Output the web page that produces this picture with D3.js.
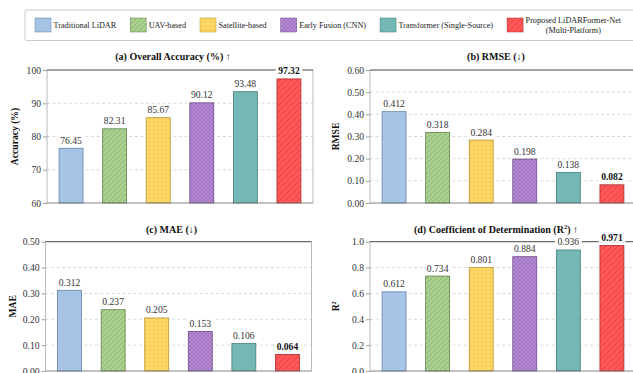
<!DOCTYPE html>
<html>
<head>
<meta charset="utf-8">
<script src="https://cdn.jsdelivr.net/npm/d3@7"></script>
<style>
  html, body { margin: 0; padding: 0; background: #fff; }
  svg { display: block; font-family: "Liberation Serif", "Times New Roman", serif; }
</style>
</head>
<body>
<svg id="chart" width="633" height="373"></svg>
<script>
// Methods compared across all four metrics
const categories = [
  "Traditional LiDAR",
  "UAV-based",
  "Satellite-based",
  "Early Fusion (CNN)",
  "Transformer (Single-Source)",
  "Proposed LiDARFormer-Net\n(Multi-Platform)"
];

// Metric values per method
const accuracy = [76.45, 82.31, 85.67, 90.12, 93.48, 97.32];
const rmse = [0.412, 0.318, 0.284, 0.198, 0.138, 0.082];
const mae = [0.312, 0.237, 0.205, 0.153, 0.106, 0.064];
const r2 = [0.612, 0.734, 0.801, 0.884, 0.936, 0.971];

// Y-axis tick values
const accTicks = [60, 70, 80, 90, 100];
const rmseTicks = [0, 0.1, 0.2, 0.3, 0.4, 0.5, 0.6];
const maeTicks = [0, 0.1, 0.2, 0.3, 0.4, 0.5];
const r2Ticks = [0, 0.2, 0.4, 0.6, 0.8, 1.0];

// Bar styling per method: fill, edge, hatch pattern id
const styles = [
  { fill: "#a7c3e6", edge: "#6283ad", pattern: null },
  { fill: "#a9d08e", edge: "#5f8048", pattern: "hatchGreen" },
  { fill: "#ffd766", edge: "#b8962f", pattern: "dotsYellow" },
  { fill: "#b98bd8", edge: "#6d4a88", pattern: "crossPurple" },
  { fill: "#73b8b4", edge: "#467f7b", pattern: null },
  { fill: "#ff5757", edge: "#a82a2a", pattern: "hatchRed" }
];

const svg = d3.select("#chart");
const defs = svg.append("defs");

function diagPattern(id, bg, line, size, width) {
  const p = defs.append("pattern").attr("id", id)
    .attr("patternUnits", "userSpaceOnUse").attr("width", size).attr("height", size);
  p.append("rect").attr("width", size).attr("height", size).attr("fill", bg);
  p.append("path")
    .attr("d", `M0,${size} L${size},0 M${-size / 2},${size / 2} L${size / 2},${-size / 2} M${size / 2},${size * 1.5} L${size * 1.5},${size / 2}`)
    .attr("stroke", line).attr("stroke-width", width);
}
diagPattern("hatchGreen", "#a9d08e", "#7ba661", 5, 0.6);
diagPattern("hatchRed", "#ff5757", "#d23a3a", 6, 0.6);
{
  const p = defs.append("pattern").attr("id", "dotsYellow")
    .attr("patternUnits", "userSpaceOnUse").attr("width", 4).attr("height", 4);
  p.append("rect").attr("width", 4).attr("height", 4).attr("fill", "#ffd766");
  p.append("circle").attr("cx", 2).attr("cy", 2).attr("r", 0.55).attr("fill", "#c99b2a");
}
{
  const s = 4;
  const p = defs.append("pattern").attr("id", "crossPurple")
    .attr("patternUnits", "userSpaceOnUse").attr("width", s).attr("height", s);
  p.append("rect").attr("width", s).attr("height", s).attr("fill", "#b98bd8");
  p.append("path").attr("d", `M0,0 L${s},${s} M0,${s} L${s},0`)
    .attr("stroke", "#8a62a8").attr("stroke-width", 0.55);
}
const fillOf = i => styles[i].pattern ? `url(#${styles[i].pattern})` : styles[i].fill;

// Legend
const legendFont = 8.2;
const legend = svg.append("g");
legend.append("rect").attr("x", 25).attr("y", 10).attr("width", 640).attr("height", 30.5)
  .attr("fill", "#fff").attr("stroke", "#bdbdbd").attr("stroke-width", 0.8).attr("rx", 1.5);
let lx = 35;
categories.forEach((name, i) => {
  legend.append("rect").attr("x", lx).attr("y", 18).attr("width", 16).attr("height", 14)
    .attr("fill", fillOf(i)).attr("stroke", styles[i].edge).attr("stroke-width", 0.5);
  const lines = name.split("\n");
  const t = legend.append("text").attr("font-size", legendFont).attr("fill", "#222");
  if (lines.length === 1) {
    t.attr("x", lx + 18.5).attr("y", 28).text(name);
    lx += 18.5 + t.node().getComputedTextLength() + 14;
  } else {
    const widths = lines.map(s => {
      const tt = legend.append("text").attr("font-size", legendFont).text(s);
      const w = tt.node().getComputedTextLength(); tt.remove(); return w;
    });
    const w = Math.max(...widths);
    const cx = Math.min(lx + 18.5 + w / 2, 632 - w / 2);
    t.attr("text-anchor", "middle");
    lines.forEach((s, k) => {
      t.append("tspan").attr("x", cx).attr("y", 23 + k * 9.5).text(s);
    });
  }
});

// Panel layout
const panels = [
  { title: ["(a) Overall Accuracy (%) ↑"], ylab: ["Accuracy (%)"], values: accuracy, ticks: accTicks, domain: [60, 100], fmt: d3.format("d"), vfmt: d3.format(".2f"),
    left: 47, top: 70, bottom: 203, titleY: 60, ylabX: 18 },
  { title: ["(b) RMSE (↓)"], ylab: ["RMSE"], values: rmse, ticks: rmseTicks, domain: [0, 0.6], fmt: d3.format(".2f"), vfmt: d3.format(".3f"),
    left: 370, top: 70, bottom: 203, titleY: 60, ylabX: 339 },
  { title: ["(c) MAE (↓)"], ylab: ["MAE"], values: mae, ticks: maeTicks, domain: [0, 0.5], fmt: d3.format(".2f"), vfmt: d3.format(".3f"),
    left: 45.5, top: 241.7, bottom: 371, titleY: 233, ylabX: 16 },
  { title: ["(d) Coefficient of Determination (R", "2", ") ↑"], ylab: ["R", "2"], values: r2, ticks: r2Ticks, domain: [0, 1], fmt: d3.format(".1f"), vfmt: d3.format(".3f"),
    left: 370, top: 241.7, bottom: 371, titleY: 233, ylabX: 339 }
];
const panelWidth = 266;
const barWidth = 0.55;

panels.forEach(p => {
  const g = svg.append("g");
  const x = d3.scaleLinear().domain([-0.5525, categories.length - 1 + 0.5525]).range([p.left, p.left + panelWidth]);
  const y = d3.scaleLinear().domain(p.domain).range([p.bottom, p.top]);

  // dashed grid
  g.append("g").selectAll("line").data(p.ticks.slice(1, -1)).join("line")
    .attr("x1", p.left).attr("x2", p.left + panelWidth)
    .attr("y1", d => y(d)).attr("y2", d => y(d))
    .attr("stroke", "#c8c8c8").attr("stroke-width", 0.7).attr("stroke-dasharray", "3,2.5");

  // bars
  g.append("g").selectAll("rect").data(p.values).join("rect")
    .attr("x", (d, i) => x(i - barWidth / 2))
    .attr("width", (d, i) => x(i + barWidth / 2) - x(i - barWidth / 2))
    .attr("y", d => y(d))
    .attr("height", d => y(p.domain[0]) - y(d))
    .attr("fill", (d, i) => fillOf(i))
    .attr("stroke", (d, i) => styles[i].edge).attr("stroke-width", 0.8);

  // y axis
  const axis = d3.axisLeft(y).tickValues(p.ticks).tickFormat(p.fmt).tickSize(4).tickPadding(2);
  const ag = g.append("g").attr("transform", `translate(${p.left},0)`).call(axis);
  ag.select(".domain").remove();
  ag.selectAll(".tick line").attr("stroke", "#777").attr("stroke-width", 0.7);
  ag.selectAll(".tick text").attr("font-family", "Liberation Serif").attr("font-size", 9.6).attr("fill", "#333");

  // frame
  const fr = g.append("g").attr("fill", "none");
  fr.append("line").attr("x1", p.left).attr("x2", p.left).attr("y1", p.top).attr("y2", p.bottom).attr("stroke", "#a8a8a8").attr("stroke-width", 0.8);
  fr.append("line").attr("x1", p.left + panelWidth).attr("x2", p.left + panelWidth).attr("y1", p.top).attr("y2", p.bottom).attr("stroke", "#a8a8a8").attr("stroke-width", 0.8);
  fr.append("line").attr("x1", p.left).attr("x2", p.left + panelWidth).attr("y1", p.bottom).attr("y2", p.bottom).attr("stroke", "#777").attr("stroke-width", 0.9);
  fr.append("line").attr("x1", p.left).attr("x2", p.left + panelWidth).attr("y1", p.top).attr("y2", p.top).attr("stroke", "#333").attr("stroke-width", 0.9);

  // value labels with white boxes
  const last = p.values.length - 1;
  p.values.forEach((v, i) => {
    const lg = g.append("g");
    const t = lg.append("text").attr("x", x(i)).attr("y", y(v) - 4.5)
      .attr("text-anchor", "middle").attr("font-size", 9.6)
      .attr("font-weight", i === last ? "bold" : "normal")
      .attr("fill", i === last ? "#111" : "#333")
      .text(p.vfmt(v));
    const bb = t.node().getBBox();
    lg.insert("rect", "text").attr("x", bb.x - 2.5).attr("y", bb.y + 1).attr("width", bb.width + 5).attr("height", bb.height - 1.5)
      .attr("fill", "#fff");
  });

  // title
  const tt = g.append("text").attr("x", p.left + panelWidth / 2 - 7).attr("y", p.titleY)
    .attr("text-anchor", "middle").attr("font-size", 10).attr("font-weight", "bold").attr("fill", "#111");
  p.title.forEach((s, k) => {
    const ts = tt.append("tspan").text(s);
    if (k === 1) ts.attr("font-size", 6.5).attr("dy", -4);
    if (k === 2) ts.attr("dy", 4);
  });

  // y label
  const yl = g.append("text")
    .attr("transform", `translate(${p.ylabX},${(p.top + p.bottom) / 2}) rotate(-90)`)
    .attr("text-anchor", "middle").attr("font-size", 9.6).attr("font-weight", "bold").attr("fill", "#111");
  p.ylab.forEach((s, k) => {
    const ts = yl.append("tspan").text(s);
    if (k === 1) ts.attr("font-size", 6.2).attr("dy", -3.5);
  });
});
</script>
</body>
</html>
